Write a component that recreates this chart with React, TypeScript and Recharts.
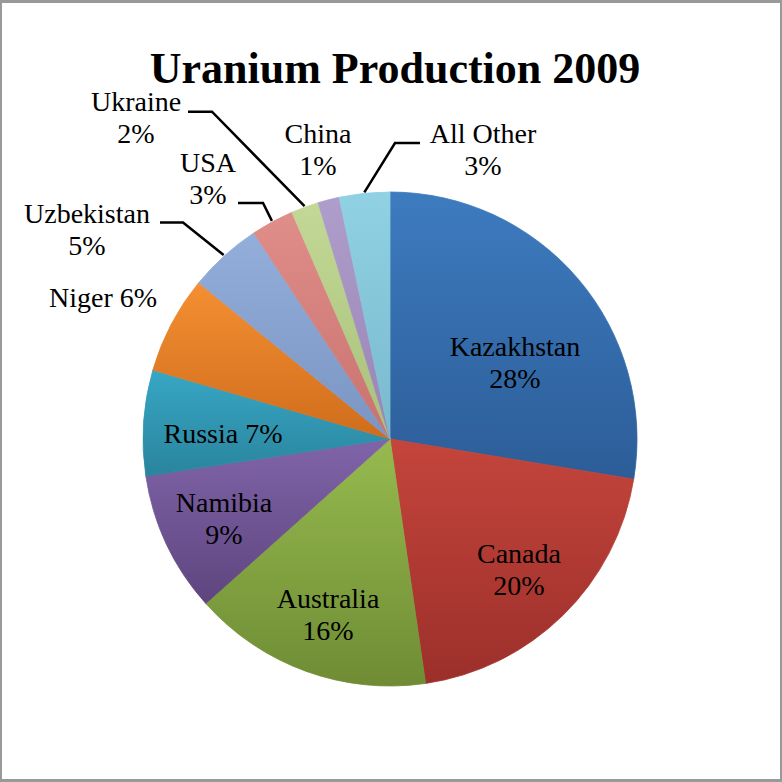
import React from "react";
import { PieChart, Pie, Cell } from "recharts";

const countries = [
  "Kazakhstan",
  "Canada",
  "Australia",
  "Namibia",
  "Russia",
  "Niger",
  "Uzbekistan",
  "USA",
  "Ukraine",
  "China",
  "All Other",
];
const shares = [27.6, 20.1, 15.7, 9.2, 6.9, 6.4, 4.8, 2.8, 1.8, 1.4, 3.3];

const topColors = [
  "#3d7bbf", "#c4453c", "#96ba4f", "#8064a9", "#37a7c5", "#f48f32",
  "#94aedb", "#e08e8a", "#c3d896", "#af9dcb", "#90d1e4",
];
const bottomColors = [
  "#2c5d98", "#9c2f2a", "#6f8c34", "#5e457e", "#2a849d", "#d06d1c",
  "#7b95c3", "#c8726e", "#a8c07b", "#9884b5", "#78b9cd",
];

const data = countries.map((name, i) => ({ name, value: shares[i] }));

// label placement, offsets from the pie centre (px)
type Spot = {
  dx: number;
  dy: number;
  oneLine?: boolean;
  leader?: { y: number; from: number; to: number };
};
const spots: Record<string, Spot> = {
  Kazakhstan: { dx: 125, dy: -83 },
  Canada: { dx: 129, dy: 124 },
  Australia: { dx: -62, dy: 169 },
  Namibia: { dx: -166, dy: 73 },
  Russia: { dx: -167, dy: 4, oneLine: true },
  Niger: { dx: -287, dy: -132, oneLine: true },
  Uzbekistan: { dx: -303, dy: -216, leader: { y: -216.5, from: -230, to: -207 } },
  USA: { dx: -182, dy: -267, leader: { y: -236, from: -152, to: -127 } },
  Ukraine: { dx: -254, dy: -328, leader: { y: -327.3, from: -202, to: -178 } },
  China: { dx: -72, dy: -296 },
  "All Other": { dx: 93, dy: -296, leader: { y: -296, from: 30, to: 5 } },
};

const RAD = Math.PI / 180;
const FONT = "Liberation Serif, Times New Roman, serif";

function renderLabel(props: any) {
  const { cx, cy, midAngle, outerRadius, percent, name } = props;
  const s = spots[name];
  if (!s) return null;
  const pct = `${Math.round(percent * 100)}%`;
  const x = cx + s.dx;
  const y = cy + s.dy;
  let line = null;
  if (s.leader) {
    const ex = cx + (outerRadius + 1) * Math.cos(-midAngle * RAD);
    const ey = cy + (outerRadius + 1) * Math.sin(-midAngle * RAD);
    const ly = cy + s.leader.y;
    line = (
      <polyline
        points={`${cx + s.leader.from},${ly} ${cx + s.leader.to},${ly} ${ex},${ey}`}
        fill="none"
        stroke="#000"
        strokeWidth={2.5}
      />
    );
  }
  return (
    <g key={name}>
      {line}
      <text
        x={x}
        y={y}
        textAnchor="middle"
        style={{ fontFamily: FONT, fontSize: 28 }}
        fill="#000"
      >
        {s.oneLine ? (
          `${name} ${pct}`
        ) : (
          <>
            <tspan x={x} y={y}>{name}</tspan>
            <tspan x={x} y={y + 32}>{pct}</tspan>
          </>
        )}
      </text>
    </g>
  );
}

export default function App() {
  return (
    <div
      style={{
        position: "fixed",
        left: 0,
        top: 0,
        width: 782,
        height: 782,
        background: "#fff",
      }}
    >
      <style>{`.recharts-pie-sectors { filter: drop-shadow(0px 5px 6px rgba(0,0,0,0.3)); }`}</style>
      <PieChart width={782} height={782} margin={{ top: 0, right: 0, bottom: 0, left: 0 }}>
        <defs>
          {countries.map((c, i) => (
            <linearGradient key={c} id={`g${i}`} x1="0" y1="0" x2="0" y2="1">
              <stop offset="0%" stopColor={topColors[i]} />
              <stop offset="100%" stopColor={bottomColors[i]} />
            </linearGradient>
          ))}
        </defs>
        <Pie
          data={data}
          dataKey="value"
          nameKey="name"
          cx={390}
          cy={439}
          outerRadius={247}
          startAngle={90}
          endAngle={-270}
          isAnimationActive={false}
          label={renderLabel}
          labelLine={false}
        >
          {data.map((d, i) => (
            <Cell
              key={d.name}
              fill={`url(#g${i})`}
              stroke={`url(#g${i})`}
              strokeWidth={0.8}
            />
          ))}
        </Pie>
      </PieChart>
      <svg
        width={782}
        height={782}
        style={{ position: "absolute", left: 0, top: 0, pointerEvents: "none" }}
      >
        <text
          x={395}
          y={83}
          textAnchor="middle"
          style={{ fontFamily: FONT, fontSize: 44, fontWeight: "bold" }}
          fill="#000"
        >
          Uranium Production 2009
        </text>
      </svg>
      <div
        style={{
          position: "absolute",
          inset: 0,
          border: "2px solid #999",
          borderTopWidth: 3,
          borderBottomWidth: 3,
          pointerEvents: "none",
        }}
      />
    </div>
  );
}
